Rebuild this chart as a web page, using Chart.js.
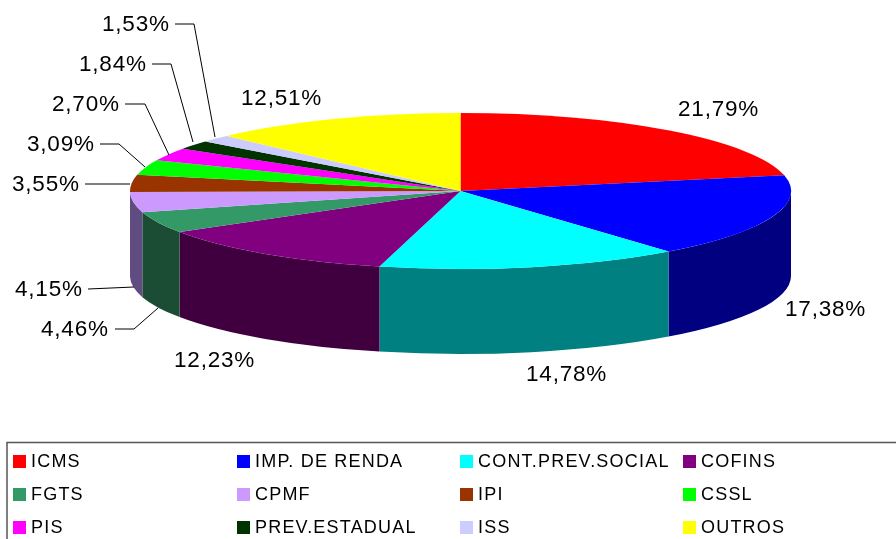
<!DOCTYPE html>
<html>
<head>
<meta charset="utf-8">
<title>Arrecadação</title>
<style>
  body { margin: 0; background: #fff; }
  canvas { display: block; }
</style>
<script src="https://cdn.jsdelivr.net/npm/chart.js@4"></script>
</head>
<body>
<canvas id="pieChart" width="896" height="539"></canvas>
<script>
// data, clockwise from the top of the pie
var categories = ["ICMS", "IMP. DE RENDA", "CONT.PREV.SOCIAL", "COFINS", "FGTS", "CPMF", "IPI", "CSSL", "PIS", "PREV.ESTADUAL", "ISS", "OUTROS"];
var shares = [21.79, 17.38, 14.78, 12.23, 4.46, 4.15, 3.55, 3.09, 2.70, 1.84, 1.53, 12.51];
var topColors = ["#ff0000", "#0000ff", "#00ffff", "#800080", "#339966", "#cc99ff", "#993300", "#00ff00", "#ff00ff", "#003300", "#ccccff", "#ffff00"];
var sideColors = ["#800000", "#000080", "#008080", "#400040", "#1a4d33", "#604c80", "#4d1a00", "#008000", "#800080", "#001a00", "#666680", "#808000"];

// label placement: left edge and baseline of each percentage
var labelPos = [[678, 116], [785, 316], [526, 381], [174, 367], [41, 336], [15, 296], [12, 191], [27, 151], [52, 111], [79, 71], [102, 31], [241, 105]];
// leader lines, same order as the categories (null = no leader)
var leaders = [null, null, null, null,
  [[115, 329], [134, 329], [158, 308]],
  [[88, 289], [134, 287]],
  [[85, 184], [130, 184]],
  [[100, 144], [119, 144], [145, 167]],
  [[125, 104], [145, 104], [169, 155]],
  [[152, 64], [171, 64], [193, 142]],
  [[175, 24], [194, 24], [215, 137]],
  null];

// pie as it sits on the page
var pieX = 460.5, pieY = 191, pieRx = 330.5, pieRy = 78, pieDepth = 85;

// legend grid
var legendX = [13, 237, 460, 683];
var legendY = [455, 488, 521];

function formatShare(v) {
  return v.toFixed(2).replace(".", ",") + "%";
}

// squashes the library's round pie into a disc with a side wall
var discPlugin = {
  id: "disc",
  beforeDatasetsDraw: function (chart) {
    var ctx = chart.ctx;
    var arcs = chart.getDatasetMeta(0).data;
    arcs.forEach(function (arc, i) {
      var a = Math.max(arc.startAngle, 0);
      var b = Math.min(arc.endAngle, Math.PI);
      if (a >= b) return;
      ctx.beginPath();
      ctx.ellipse(pieX, pieY, pieRx, pieRy, 0, a, b);
      ctx.ellipse(pieX, pieY + pieDepth, pieRx, pieRy, 0, b, a, true);
      ctx.closePath();
      ctx.fillStyle = sideColors[i];
      ctx.fill();
    });
    var first = arcs[0];
    ctx.save();
    ctx.translate(pieX, pieY);
    ctx.scale(pieRx / first.outerRadius, pieRy / first.outerRadius);
    ctx.translate(-first.x, -first.y);
  },
  afterDatasetsDraw: function (chart) {
    chart.ctx.restore();
  }
};

var labelPlugin = {
  id: "labels",
  afterDraw: function (chart) {
    var ctx = chart.ctx;
    ctx.save();
    ctx.fillStyle = "#000";
    ctx.textBaseline = "alphabetic";

    // percentages and leaders
    ctx.font = "22.5px 'Liberation Sans'";
    ctx.letterSpacing = "0.8px";
    shares.forEach(function (v, i) {
      ctx.fillText(formatShare(v), labelPos[i][0], labelPos[i][1]);
      if (!leaders[i]) return;
      ctx.beginPath();
      leaders[i].forEach(function (p, j) {
        if (j == 0) ctx.moveTo(p[0], p[1]);
        else ctx.lineTo(p[0], p[1]);
      });
      ctx.strokeStyle = "#000";
      ctx.lineWidth = 1;
      ctx.stroke();
    });

    // legend box runs off the right and bottom of the page
    ctx.strokeStyle = "#555";
    ctx.lineWidth = 1.5;
    ctx.strokeRect(7, 442.5, 900, 110);

    ctx.font = "18px 'Liberation Sans'";
    ctx.letterSpacing = "1.2px";
    categories.forEach(function (name, i) {
      var x = legendX[i % 4];
      var y = legendY[Math.floor(i / 4)];
      ctx.fillStyle = topColors[i];
      ctx.fillRect(x, y, 13, 13);
      ctx.fillStyle = "#000";
      ctx.fillText(name, x + 18, y + 12);
    });
    ctx.restore();
  }
};

var pieCtx = document.getElementById("pieChart").getContext("2d");
var pieChart = new Chart(pieCtx, {
  type: "pie",
  data: {
    labels: categories,
    datasets: [
      {
        data: shares,
        backgroundColor: topColors,
        borderWidth: 0,
      },
    ],
  },
  options: {
    responsive: false,
    animation: false,
    plugins: {
      legend: { display: false },
      tooltip: { enabled: false },
    },
  },
  plugins: [discPlugin, labelPlugin],
});
</script>
</body>
</html>
